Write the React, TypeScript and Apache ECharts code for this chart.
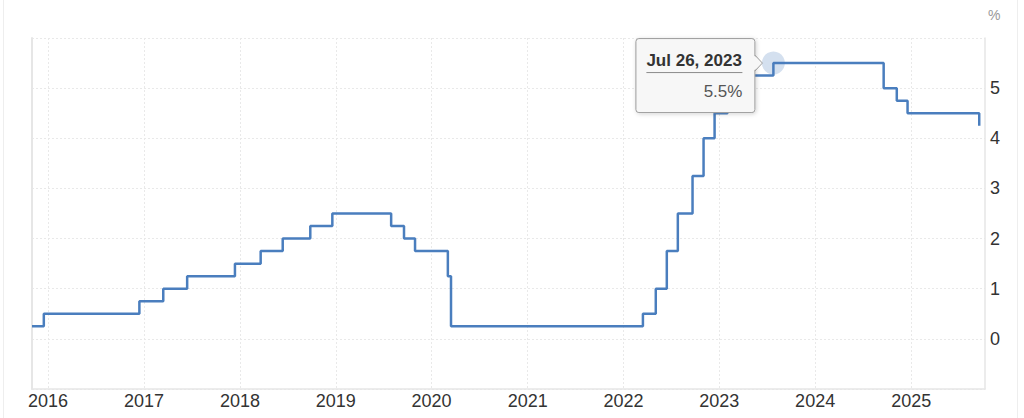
import React, { useEffect, useRef } from "react";
import * as echarts from "echarts";

// Federal funds rate (upper bound), change dates and values
const rateDates = [
  "2015-11-01", "2015-12-16", "2016-12-14", "2017-03-15", "2017-06-14",
  "2017-12-13", "2018-03-21", "2018-06-13", "2018-09-26", "2018-12-19",
  "2019-07-31", "2019-09-18", "2019-10-30", "2020-03-03", "2020-03-15",
  "2022-03-16", "2022-05-04", "2022-06-15", "2022-07-27", "2022-09-21",
  "2022-11-02", "2022-12-14", "2023-02-01", "2023-03-22", "2023-05-03",
  "2023-07-26", "2024-09-18", "2024-11-07", "2024-12-18", "2025-09-17",
];
const rateValues = [
  0.25, 0.5, 0.75, 1.0, 1.25,
  1.5, 1.75, 2.0, 2.25, 2.5,
  2.25, 2.0, 1.75, 1.25, 0.25,
  0.5, 1.0, 1.75, 2.5, 3.25,
  4.0, 4.5, 4.75, 5.0, 5.25,
  5.5, 5.0, 4.75, 4.5, 4.25,
];
const yearTicks = [2016, 2017, 2018, 2019, 2020, 2021, 2022, 2023, 2024, 2025];
const axisStart = "2015-11-01";
const axisEnd = "2025-10-09";
const yMin = -1;
const yMax = 6;
const yLabelMin = 0;
const yLabelMax = 5;
const unitLabel = "%";
const highlightDate = "2023-07-26";
const highlightValue = 5.5;
const tooltipTitle = "Jul 26, 2023";
const tooltipValue = "5.5%";

const ts = (s: string) => {
  const [y, m, d] = s.split("-").map(Number);
  return new Date(y, m - 1, d).getTime();
};

const FONT = "'Liberation Sans', Arial, Helvetica, sans-serif";
const LINE_COLOR = "#4a7ebe";
const GRID_COLOR = "#e6e6e6";
const SPLIT_COLOR = "#e9e9e9";

export default function App() {
  const ref = useRef<HTMLDivElement>(null);

  useEffect(() => {
    if (!ref.current) return;
    const chart = echarts.init(ref.current, undefined, { renderer: "svg" });
    const yearValues = yearTicks.map((y) => new Date(y, 0, 1).getTime());

    const option: any = {
      animation: false,
      grid: { left: 32, right: 39, top: 38, bottom: 29, containLabel: false },
      xAxis: {
        type: "value",
        min: ts(axisStart),
        max: ts(axisEnd),
        axisLine: { show: true, onZero: false, lineStyle: { color: GRID_COLOR, width: 1.5 } },
        axisTick: { show: false, customValues: yearValues },
        axisLabel: {
          customValues: yearValues,
          formatter: (v: number) => String(new Date(v).getFullYear()),
          color: "#333",
          fontSize: 18,
          fontFamily: FONT,
          margin: 3,
          hideOverlap: false,
        },
        splitLine: { show: true, lineStyle: { color: SPLIT_COLOR, type: [2, 2], width: 1 } },
      },
      yAxis: [
        {
          type: "value",
          position: "right",
          min: yMin,
          max: yMax,
          interval: 1,
          axisLine: { show: true, onZero: false, lineStyle: { color: GRID_COLOR, width: 1.5 } },
          axisTick: { show: false },
          axisLabel: {
            formatter: (v: number) => (v < yLabelMin || v > yLabelMax ? "" : String(v)),
            color: "#333",
            fontSize: 18,
            fontFamily: FONT,
            margin: 5,
          },
          splitLine: { show: true, lineStyle: { color: SPLIT_COLOR, type: [2, 2], width: 1 } },
        },
        {
          type: "value",
          position: "left",
          min: yMin,
          max: yMax,
          interval: 1,
          axisLine: { show: true, onZero: false, lineStyle: { color: GRID_COLOR, width: 2 } },
          axisTick: { show: false },
          axisLabel: { show: false },
          splitLine: { show: false },
        },
      ],
      series: [
        {
          type: "line",
          step: "end",
          data: rateDates.map((d, i) => [ts(d), rateValues[i]]),
          symbol: "none",
          lineStyle: { color: LINE_COLOR, width: 2.5 },
          itemStyle: { color: LINE_COLOR },
          silent: true,
          z: 3,
        },
        {
          type: "scatter",
          data: [[ts(highlightDate), highlightValue]],
          symbol: "circle",
          symbolSize: 23,
          itemStyle: { color: "rgba(74,126,190,0.3)" },
          silent: true,
          z: 4,
        },
      ],
    };
    chart.setOption(option);

    const p = chart.convertToPixel({ seriesIndex: 1 }, [ts(highlightDate), highlightValue]) as number[];
    const px = p[0];
    const py = p[1];
    const bw = 119;
    const bh = 74;
    const bx = px - 138;
    const by = py - 25;
    const Z = 100;

    chart.setOption({
      graphic: [
        { type: "line", shape: { x1: 3.5, y1: 0, x2: 3.5, y2: 418 }, style: { stroke: "#eeeeee", lineWidth: 1 }, silent: true },
        { type: "line", shape: { x1: 1017.5, y1: 0, x2: 1017.5, y2: 418 }, style: { stroke: "#eeeeee", lineWidth: 1 }, silent: true },
        {
          type: "text",
          x: 988,
          y: 15,
          style: { text: unitLabel, fill: "#999", font: `14px ${FONT}`, textVerticalAlign: "middle" },
          silent: true,
        },
        {
          type: "rect",
          z: Z,
          silent: true,
          shape: { x: bx + 0.5, y: by + 0.5, width: bw, height: bh, r: 3 },
          style: {
            fill: "#f7f7f7",
            stroke: "#9c9c9c",
            lineWidth: 1,
            shadowBlur: 4,
            shadowColor: "rgba(0,0,0,0.18)",
            shadowOffsetX: 1,
            shadowOffsetY: 1,
          },
        },
        {
          type: "polygon",
          z: Z + 1,
          silent: true,
          shape: { points: [[bx + bw - 1, py - 8], [px - 11, py], [bx + bw - 1, py + 8]] },
          style: { fill: "#f7f7f7" },
        },
        {
          type: "polyline",
          z: Z + 2,
          silent: true,
          shape: { points: [[bx + bw + 0.5, py - 8], [px - 11, py], [bx + bw + 0.5, py + 8]] },
          style: { stroke: "#9c9c9c", lineWidth: 1, fill: "none" },
        },
        {
          type: "text",
          z: Z + 2,
          silent: true,
          x: bx + 11,
          y: py - 3,
          style: { text: tooltipTitle, fill: "#333", font: `bold 17px ${FONT}`, textVerticalAlign: "middle" },
        },
        {
          type: "line",
          z: Z + 2,
          silent: true,
          shape: { x1: bx + 11, y1: py + 9.5, x2: bx + 107, y2: py + 9.5 },
          style: { stroke: "#8a8a8a", lineWidth: 1 },
        },
        {
          type: "text",
          z: Z + 2,
          silent: true,
          x: bx + 107,
          y: py + 28,
          style: { text: tooltipValue, fill: "#555", font: `17px ${FONT}`, textAlign: "right", textVerticalAlign: "middle" },
        },
      ],
    });

    return () => chart.dispose();
  }, []);

  return (
    <div
      ref={ref}
      style={{ position: "fixed", left: 0, top: 0, width: 1024, height: 418, background: "#fff" }}
    />
  );
}
